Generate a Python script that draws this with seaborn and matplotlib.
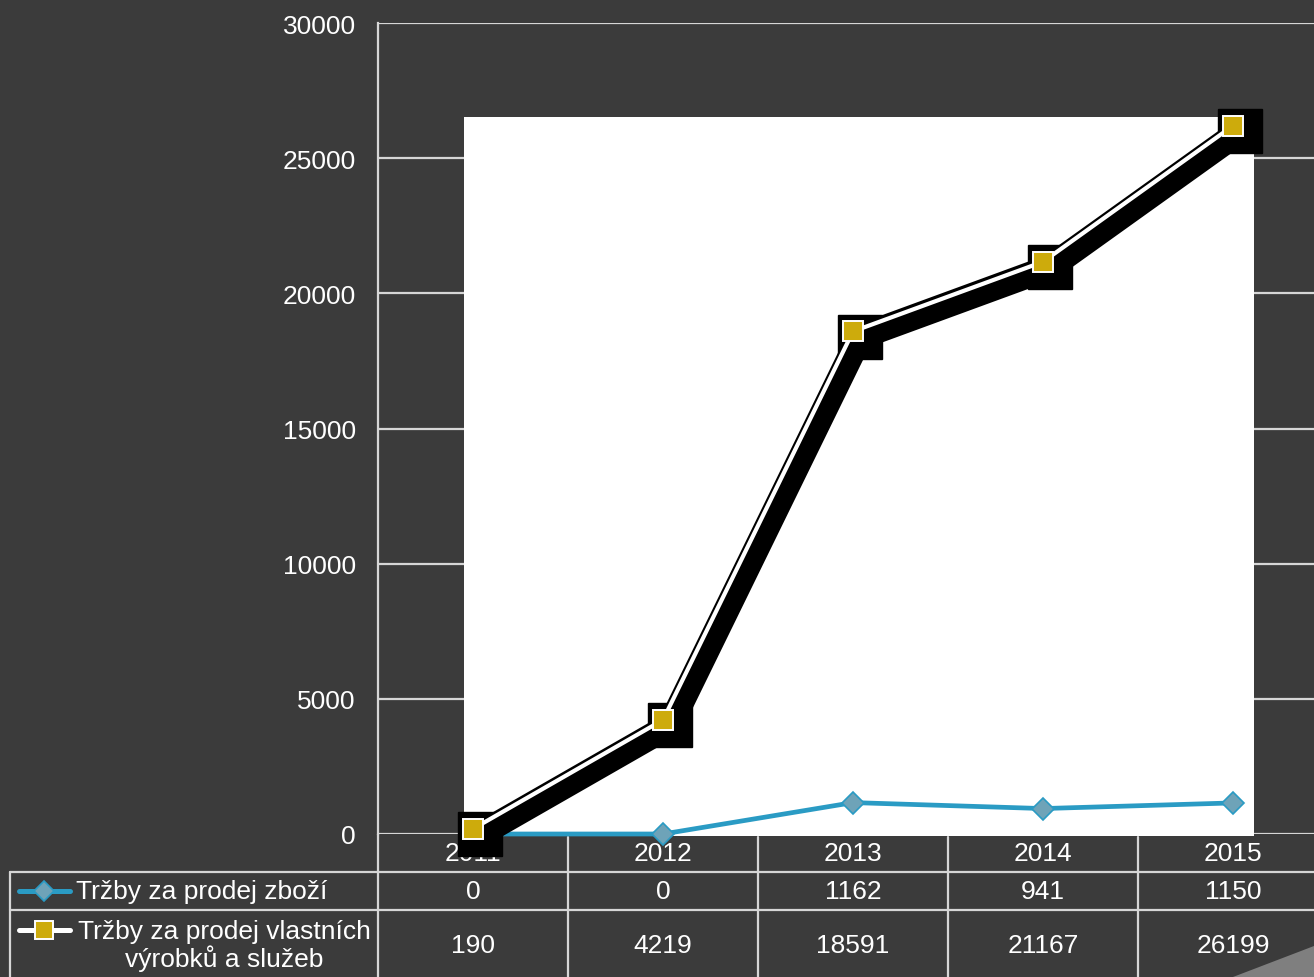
"""
Tržby 2011-2015 - line chart with data table underneath
"""

import numpy as np
import pandas as pd
import matplotlib
matplotlib.use("Agg")
import matplotlib.pyplot as plt
import seaborn as sns
from matplotlib.transforms import ScaledTranslation, blended_transform_factory
from matplotlib.lines import Line2D
from matplotlib.patches import Rectangle, Polygon

YEARS = ["2011", "2012", "2013", "2014", "2015"]
ZBOZI = [0, 0, 1162, 941, 1150]
VYROBKY = [190, 4219, 18591, 21167, 26199]
LABEL_ZBOZI = "Tržby za prodej zboží"
LABEL_VYROBKY = "Tržby za prodej vlastních\nvýrobků a služeb"
Y_TICKS = [0, 5000, 10000, 15000, 20000, 25000, 30000]

BG = "#3b3b3b"
GRID = "#d6d6d6"
BLUE = "#2a9bc4"
DIAMOND = "#6ea3b8"
GOLD = "#cdab0c"
W, H = 1314, 978
FS = 19


def fx(px):
    return px / W


def fy(py):
    return 1 - py / H


sns.set_theme(style="dark")
plt.rcParams["font.family"] = ["Liberation Sans", "DejaVu Sans"]

df = pd.DataFrame({"idx": np.arange(len(YEARS)), "zbozi": ZBOZI, "vyrobky": VYROBKY})

fig = plt.figure(figsize=(W / 100, H / 100), dpi=100, facecolor=BG)
ax = fig.add_axes([fx(378), fy(835), 950 / W, 811 / H])
ax.set_facecolor(BG)
ax.set_xlim(-0.5, len(YEARS) - 0.5)
ax.set_ylim(0, 30000)
ax.set_yticks(Y_TICKS)
ax.set_xticks([])
ax.set_axisbelow(True)
ax.grid(axis="y", color=GRID, lw=1.6)
ax.grid(axis="x", visible=False)
ax.tick_params(axis="y", colors="white", labelsize=FS, length=0, pad=16)
for s in ["top", "right", "bottom"]:
    ax.spines[s].set_visible(False)
ax.spines["left"].set_color(GRID)
ax.spines["left"].set_linewidth(1.6)

# white backdrop inside the plot
ax.add_patch(Rectangle((0.0905, -0.003), 0.832, 0.887, transform=ax.transAxes,
                       facecolor="white", edgecolor="none", zorder=1, clip_on=False))

# blue series
sns.lineplot(data=df, x="idx", y="zbozi", ax=ax, color=BLUE, lw=3.4, marker="D",
             markersize=11, markerfacecolor=DIAMOND, markeredgecolor=BLUE,
             markeredgewidth=1.2, zorder=4, clip_on=False)

# black drop shadow for the second series
shadow = ax.transData + ScaledTranslation(7 / 100, -5.5 / 100, fig.dpi_scale_trans)
ax.plot(df["idx"], df["vyrobky"], color="black", lw=18.5, marker="s", markersize=31,
        markerfacecolor="black", markeredgecolor="black", transform=shadow,
        zorder=5, clip_on=False)

sns.lineplot(data=df, x="idx", y="vyrobky", ax=ax, color="white", lw=3, marker="s",
             markersize=14.5, markerfacecolor=GOLD, markeredgecolor="white",
             markeredgewidth=1.4, zorder=6, clip_on=False)
ax.set_xlabel("")
ax.set_ylabel("")
if ax.get_legend():
    ax.get_legend().remove()

# data table
tcol = blended_transform_factory(ax.transData, fig.transFigure)
line_kw = dict(color=GRID, lw=1.6, zorder=2)
fig.add_artist(Line2D([fx(378), fx(378)], [fy(835), 0], transform=fig.transFigure, **line_kw))
fig.add_artist(Line2D([fx(10), fx(10)], [fy(873), 0], transform=fig.transFigure, **line_kw))
for yy in [873, 911]:
    fig.add_artist(Line2D([fx(10), 1], [fy(yy), fy(yy)], transform=fig.transFigure, **line_kw))
for i in range(len(YEARS) - 1):
    ax.add_line(Line2D([i + 0.5, i + 0.5], [fy(838), 0], transform=tcol, clip_on=False, **line_kw))

for i, yr in enumerate(YEARS):
    ax.text(i, fy(854), yr, transform=tcol, ha="center", va="center", color="white",
            fontsize=FS, zorder=2, clip_on=False)
    ax.text(i, fy(892), f"{ZBOZI[i]}", transform=tcol, ha="center", va="center",
            color="white", fontsize=FS, zorder=2, clip_on=False)
    ax.text(i, fy(946), f"{VYROBKY[i]}", transform=tcol, ha="center", va="center",
            color="white", fontsize=FS, zorder=2, clip_on=False)

# legend keys in the table
fig.add_artist(Line2D([fx(19), fx(70)], [fy(892), fy(892)], transform=fig.transFigure,
                      color=BLUE, lw=3.6, solid_capstyle="round"))
fig.add_artist(Line2D([fx(44)], [fy(892)], transform=fig.transFigure, marker="D",
                      markersize=10.5, markerfacecolor=DIAMOND, markeredgecolor=BLUE,
                      markeredgewidth=1.2, linestyle="none"))
fig.add_artist(Line2D([fx(19), fx(70)], [fy(931), fy(931)], transform=fig.transFigure,
                      color="white", lw=3.6, solid_capstyle="round"))
fig.add_artist(Line2D([fx(44)], [fy(931)], transform=fig.transFigure, marker="s",
                      markersize=12.5, markerfacecolor=GOLD, markeredgecolor="white",
                      markeredgewidth=1.4, linestyle="none"))
fig.text(fx(76), fy(892), LABEL_ZBOZI, ha="left", va="center", color="white", fontsize=FS)
fig.text(fx(224), fy(946), LABEL_VYROBKY, ha="center", va="center", color="white",
         fontsize=FS, multialignment="center", linespacing=1.05)

# corner decoration
fig.add_artist(Polygon([[fx(1233), 0], [1, fy(947)], [1, 0]], closed=True,
                       transform=fig.transFigure, facecolor="#7f7f7f", edgecolor="none"))

fig.savefig("out.png", dpi=100, facecolor=fig.get_facecolor())
